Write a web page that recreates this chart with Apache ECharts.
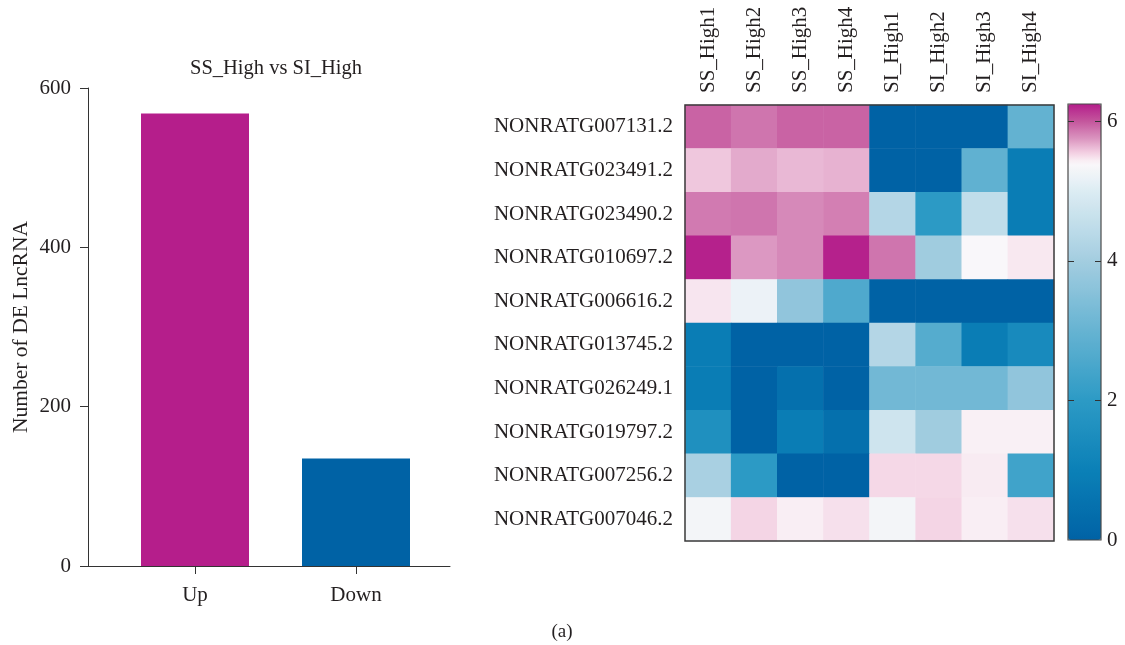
<!DOCTYPE html>
<html><head><meta charset="utf-8">
<script src="https://cdn.jsdelivr.net/npm/echarts@6/dist/echarts.min.js"></script>
<style>html,body{margin:0;padding:0;background:#fff}#c{width:1125px;height:645px}</style>
</head><body><div id="c"></div>
<script>
const barTitle = 'SS_High vs SI_High';
const barCategories = ['Up', 'Down'];
const barValues = [568, 135];
const barColors = ['#B51E8B', '#0062A5'];
const barYName = 'Number of DE LncRNA';
const heatColumns = ['SS_High1','SS_High2','SS_High3','SS_High4','SI_High1','SI_High2','SI_High3','SI_High4'];
const heatRows = ['NONRATG007131.2','NONRATG023491.2','NONRATG023490.2','NONRATG010697.2','NONRATG006616.2','NONRATG013745.2','NONRATG026249.1','NONRATG019797.2','NONRATG007256.2','NONRATG007046.2'];
const row1 = [5.95, 5.88, 5.95, 5.95, 0, 0, 0, 2.95];
const row2 = [5.58, 5.68, 5.63, 5.65, 0, 0, 2.9, 0.9];
const row3 = [5.86, 5.88, 5.8, 5.84, 4.3, 2.0, 4.5, 0.9];
const row4 = [6.23, 5.74, 5.8, 6.23, 5.88, 3.95, 5.38, 5.46];
const row5 = [5.47, 5.2, 3.7, 2.6, 0, 0, 0, 0];
const row6 = [0.9, 0, 0, 0, 4.3, 2.7, 0.9, 1.4];
const row7 = [0.9, 0, 0.45, 0, 3.2, 3.2, 3.2, 3.7];
const row8 = [1.6, 0, 0.9, 0.45, 4.75, 3.95, 5.43, 5.43];
const row9 = [4.1, 2.0, 0, 0, 5.52, 5.52, 5.45, 2.35];
const row10 = [5.3, 5.53, 5.44, 5.49, 5.3, 5.53, 5.44, 5.49];
const heatValues = [row1,row2,row3,row4,row5,row6,row7,row8,row9,row10];
const colorMin = 0, colorMax = 6.25;
const colorTickMarks = [2, 4, 6];
const colorTickLabels = [0, 2, 4, 6];
const panelLabel = '(a)';

const colorStops = [[0,'#0062a5'],[1,'#0b80b7'],[2,'#2c9ac5'],[3,'#66b3d2'],[4,'#a3cde0'],[5,'#dcecf3'],[5.4,'#fbf8fa'],[5.55,'#f3d0e2'],[5.75,'#db95c0'],[6.0,'#c4579d'],[6.25,'#b41c8a']];
function hex(c){return [1,3,5].map(i=>parseInt(c.substr(i,2),16));}
function colorAt(v){
  for(let i=0;i<colorStops.length-1;i++){
    const [a,ca]=colorStops[i],[b,cb]=colorStops[i+1];
    if(v<=b){const t=(v-a)/(b-a);const x=hex(ca),y=hex(cb);
      return 'rgb('+x.map((q,k)=>Math.round(q+(y[k]-q)*t)).join(',')+')';}
  }
  return colorStops[colorStops.length-1][1];
}
const gradient=[];
for(let i=0;i<=125;i++) gradient.push(colorAt(colorMin+(colorMax-colorMin)*i/125));

const font = 'Liberation Serif';
const txt = '#231f20';
const fs = 21;
const heatData = [];
heatValues.forEach((r,i)=>r.forEach((v,j)=>heatData.push([j,i,v])));

const chart = echarts.init(document.getElementById('c'));
chart.setOption({
  animation:false,
  textStyle:{fontFamily:font,color:txt},
  title:[
    {text:barTitle,left:276,top:58,textAlign:'center',padding:0,textStyle:{fontFamily:font,fontSize:20.5,fontWeight:'normal',color:txt}},
    {text:panelLabel,left:562,top:623,textAlign:'center',padding:0,textStyle:{fontFamily:font,fontSize:19,fontWeight:'normal',color:txt}}
  ],
  grid:[
    {left:88,top:88,width:362,height:478},
    {left:114.5,top:88,width:322,height:478},
    {left:685,top:105,width:369,height:436,show:true,borderColor:'#3a3a3a',borderWidth:1.5,backgroundColor:'transparent',z:10},
    {left:1068,top:104,width:33,height:436,show:true,borderColor:'#4a4a4a',borderWidth:1.2,backgroundColor:'transparent',z:10}
  ],
  xAxis:[
    {gridIndex:0,type:'value',min:0,max:1,axisLine:{show:true,lineStyle:{color:'#333',width:1}},axisTick:{show:false},axisLabel:{show:false},splitLine:{show:false}},
    {gridIndex:1,type:'category',data:barCategories,axisLine:{show:false},axisTick:{show:true,alignWithLabel:true,length:8,lineStyle:{color:'#333'}},axisLabel:{fontFamily:font,fontSize:fs,color:txt,margin:19},splitLine:{show:false}},
    {gridIndex:2,type:'category',position:'top',data:heatColumns,axisLine:{show:false},axisTick:{show:false},axisLabel:{rotate:-90,fontFamily:font,fontSize:fs,color:txt,margin:12},splitLine:{show:false}},
    {gridIndex:3,type:'category',data:['c'],show:false}
  ],
  yAxis:[
    {gridIndex:0,type:'value',min:0,max:600,interval:200,name:barYName,nameLocation:'middle',nameGap:56,nameTextStyle:{fontFamily:font,fontSize:21.5,color:txt},axisLine:{show:true,lineStyle:{color:'#333',width:1}},axisTick:{show:true,length:8,lineStyle:{color:'#333'}},axisLabel:{fontFamily:font,fontSize:fs,color:txt,margin:17},splitLine:{show:false}},
    {gridIndex:1,type:'value',min:0,max:600,show:false,splitLine:{show:false}},
    {gridIndex:2,type:'category',inverse:true,data:heatRows,axisLine:{show:false},axisTick:{show:false},axisLabel:{fontFamily:font,fontSize:fs,color:txt,margin:12},splitLine:{show:false}},
    {gridIndex:3,type:'value',position:'left',min:colorMin,max:colorMax,z:12,axisLine:{show:false},axisTick:{show:true,inside:true,length:6,customValues:colorTickMarks,lineStyle:{color:'#333'}},axisLabel:{show:false},splitLine:{show:false}},
    {gridIndex:3,type:'value',position:'right',min:colorMin,max:colorMax,z:12,axisLine:{show:false},axisTick:{show:true,inside:true,length:6,customValues:colorTickMarks,lineStyle:{color:'#333'}},axisLabel:{show:true,customValues:colorTickLabels,fontFamily:font,fontSize:fs,color:txt,margin:6},splitLine:{show:false}}
  ],
  visualMap:{type:'continuous',seriesIndex:1,min:colorMin,max:colorMax,left:1068,top:104,itemWidth:33,itemHeight:436,padding:0,calculable:false,text:null,showLabel:false,inRange:{color:gradient}},
  series:[
    {type:'bar',xAxisIndex:1,yAxisIndex:1,barWidth:108,data:barValues.map((v,i)=>({value:v,itemStyle:{color:barColors[i]}}))},
    {type:'heatmap',xAxisIndex:2,yAxisIndex:2,data:heatData,itemStyle:{borderWidth:0}}
  ]
});
</script></body></html>
